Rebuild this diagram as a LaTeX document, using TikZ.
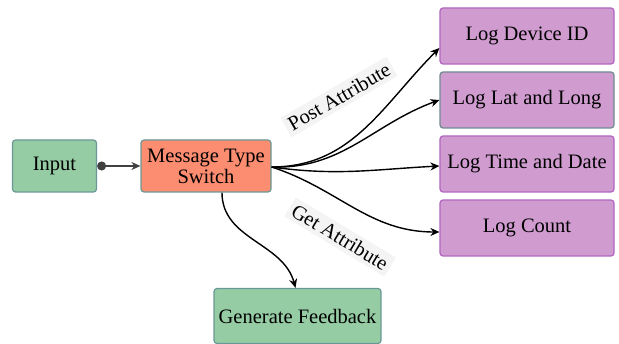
\documentclass[tikz,border=0pt]{standalone}
\usepackage{fontspec}
\setmainfont{Liberation Serif}
\usetikzlibrary{arrows.meta}
\definecolor{gfill}{HTML}{95CCA4}
\definecolor{gdraw}{HTML}{6A9896}
\definecolor{sfill}{HTML}{FD8D70}
\definecolor{pfill}{HTML}{D09CD0}
\definecolor{pdraw}{HTML}{B066C0}
\definecolor{tdraw}{HTML}{6E8C90}
\definecolor{lblbg}{HTML}{F4F4F4}
\tikzset{
  box/.style={draw=gdraw, line width=1.2pt, rounded corners=3pt, align=center, inner sep=0pt, font=\fontsize{20.5}{21}\selectfont},
  greenbox/.style={box, fill=gfill},
  switchbox/.style={box, fill=sfill},
  logbox/.style={box, fill=pfill, draw=pdraw, minimum width=174pt, minimum height=56pt},
  conn/.style={line width=1.4pt, -{Stealth[length=9pt,width=8pt]}},
  lbl/.style={fill=lblbg, inner sep=4pt, font=\fontsize{20.5}{21}\selectfont}
}
\begin{document}
\begin{tikzpicture}[x=1pt,y=-1pt]
\useasboundingbox (0,0) rectangle (619,344);
\node[greenbox, minimum width=84pt, minimum height=52pt] (input) at (54.5,166) {Input};
\node[switchbox, minimum width=130pt, minimum height=52pt] (switch) at (206,166) {Message Type\\Switch};
\node[logbox] (dev) at (527,36) {Log Device ID};
\node[logbox, draw=tdraw] (lat) at (527,100) {Log Lat and Long};
\node[logbox] (time) at (527,164) {Log Time and Date};
\node[logbox] (count) at (527,228) {Log Count};
\node[greenbox, minimum width=167pt, minimum height=55pt] (fb) at (297.5,316) {Generate Feedback};
\coordinate (s) at ([yshift=-1pt]switch.east);
\coordinate (sb) at ([xshift=16pt]switch.south);
\draw[line width=1.3pt, draw=black!75, {Circle[length=9pt,width=9pt]}-{Stealth[length=9pt,width=8pt]}] (input.east) -- (switch.west);
\draw[conn] (s) to[out=0, in=225] ([yshift=-12pt]dev.west);
\draw[conn] (s) to[out=-2, in=200] ([yshift=0pt]lat.west);
\draw[conn] (s) to[out=-8, in=183] ([yshift=-2pt]time.west);
\draw[conn] (s) to[out=-18, in=180] ([yshift=-4pt]count.west);
\draw[conn] (sb) to[out=-90, in=105] ([xshift=-2pt]fb.north);
\node[lbl, rotate=30] (post) at (339,97) {Post Attribute};
\node[lbl, rotate=-31] (get) at (340,237) {Get Attribute};
\end{tikzpicture}
\end{document}
